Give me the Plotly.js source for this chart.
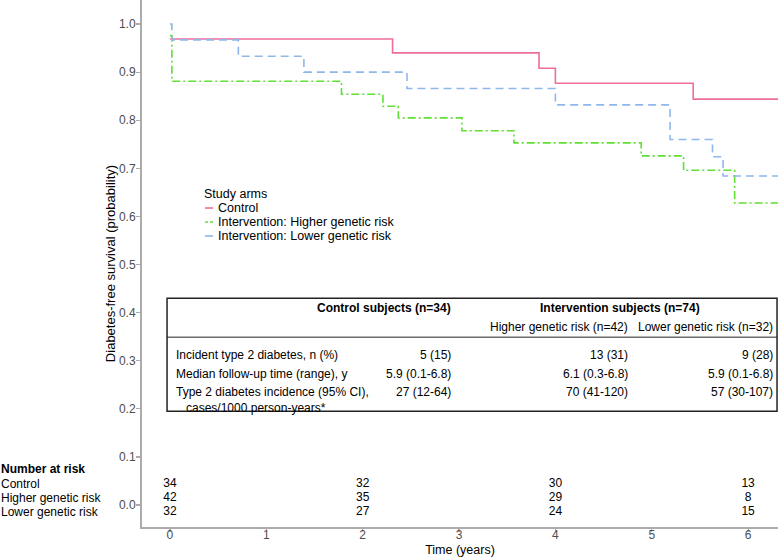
<!DOCTYPE html>
<html>
<head>
<meta charset="utf-8">
<script src="https://cdn.plot.ly/plotly-3.0.1.min.js"></script>
<style>
  html, body { margin: 0; padding: 0; background: #fff; }
  #myDiv { width: 782px; height: 557px; }
</style>
</head>
<body>
<div id="myDiv"></div>
<script>
// Kaplan-Meier steps (time in years, survival probability)
let ctrlT = [0, 2.31, 3.83, 4.0, 5.43, 6.8];
let ctrlS = [0.969, 0.940, 0.908, 0.877, 0.844, 0.844];

let highT = [0, 0.02, 1.78, 2.21, 2.37, 3.03, 3.57, 4.89, 5.33, 5.86, 6.8];
let highS = [0.976, 0.881, 0.854, 0.829, 0.805, 0.778, 0.753, 0.726, 0.696, 0.628, 0.628];

let lowT = [0, 0.02, 0.71, 1.39, 2.46, 4.0, 5.19, 5.63, 5.74, 6.8];
let lowS = [1.0, 0.967, 0.933, 0.900, 0.866, 0.832, 0.760, 0.724, 0.684, 0.684];

let armNames = ['Control', 'Intervention: Higher genetic risk', 'Intervention: Lower genetic risk'];
let armColors = ['#EE6E96', '#62DE36', '#8FB7EA'];
let armDash = ['solid', '8px,3px,2px,3px', '8px,5px'];

// number at risk
let riskTimes = [0, 2, 4, 6];
let riskLabels = ['Control', 'Higher genetic risk', 'Lower genetic risk'];
let riskCtrl = [34, 32, 30, 13];
let riskHigh = [42, 35, 29, 8];
let riskLow = [32, 27, 24, 15];

// summary table
let rowLabels = ['Incident type 2 diabetes, n (%)', 'Median follow-up time (range), y',
                 'Type 2 diabetes incidence (95% CI),<br>\u00a0\u00a0\u00a0cases/1000 person-years*'];
let colCtrl = ['5 (15)', '5.9 (0.1-6.8)', '27 (12-64)'];
let colHigh = ['13 (31)', '6.1 (0.3-6.8)', '70 (41-120)'];
let colLow = ['9 (28)', '5.9 (0.1-6.8)', '57 (30-107)'];

let FONT = 'Liberation Sans, Arial, sans-serif';

let curves = [[ctrlT, ctrlS], [highT, highS], [lowT, lowS]];
let traces = curves.map(function(c, i){
    return {x: c[0], y: c[1], name: armNames[i], mode: 'lines', type: 'scatter', showlegend: false,
            line: {shape: 'hv', width: 1.6, color: armColors[i], dash: armDash[i]}};
});

// at-risk numbers as text traces on the time axis
let riskRows = [riskCtrl, riskHigh, riskLow];
let riskY = [0.044, 0.015, -0.015];
riskRows.forEach(function(r, i){
    traces.push({
        x: riskTimes, y: riskTimes.map(function(){ return riskY[i]; }),
        text: r.map(String), mode: 'text', type: 'scatter', showlegend: false,
        hoverinfo: 'skip', cliponaxis: false,
        textfont: {family: FONT, size: 12, color: '#000'}
    });
});

let annotations = [];
function addText(txt, x, y, anchor, opts){
    opts = opts || {};
    annotations.push({
        text: opts.bold ? '<b>' + txt + '</b>' : txt,
        x: x, y: y, xref: opts.xref || 'x', yref: opts.yref || 'y',
        xanchor: anchor, yanchor: 'middle', align: 'left', showarrow: false,
        borderpad: 0,
        font: {family: FONT, size: opts.size || 12, color: '#000'}
    });
}

// table header
addText('Control subjects (n=34)', 2.93, 0.410, 'right', {bold: true});
addText('Intervention subjects (n=74)', 4.67, 0.410, 'center', {bold: true});
addText('Higher genetic risk (n=42)', 4.76, 0.370, 'right');
addText('Lower genetic risk (n=32)', 6.27, 0.370, 'right');

let rowY = [0.312, 0.272, 0.235];
rowLabels.forEach(function(lbl, i){
    addText(lbl, 0.05, i < 2 ? rowY[i] : 0.219, 'left');
    addText(colCtrl[i], 2.93, rowY[i], 'right');
    addText(colHigh[i], 4.76, rowY[i], 'right');
    addText(colLow[i], 6.27, rowY[i], 'right');
});

// number at risk labels (left of the axis)
addText('Number at risk', -0.2233, 0.074, 'left', {bold: true, xref: 'paper'});
riskLabels.forEach(function(lbl, i){
    addText(lbl, -0.2233, riskY[i], 'left', {xref: 'paper'});
});

let shapes = [
    {type: 'rect', xref: 'x', yref: 'y', x0: -0.03, x1: 6.30, y0: 0.195, y1: 0.430,
     line: {color: '#222', width: 1.5}, fillcolor: 'rgba(0,0,0,0)'},
    {type: 'line', xref: 'x', yref: 'y', x0: -0.03, x1: 6.30, y0: 0.349, y1: 0.349,
     line: {color: '#222', width: 1}}
];

// compact legend, drawn like the original's (short keys, tight rows)
let legX = 0.0959, legKey0 = 0.0991, legKey1 = 0.1116, legTextX = 0.1179;
let legY = [0.6053, 0.5787, 0.5522];
addText('Study arms', legX, 0.632, 'left', {xref: 'paper', yref: 'paper', size: 12.5});
armNames.forEach(function(n, i){
    addText(n, legTextX, legY[i], 'left', {xref: 'paper', yref: 'paper', size: 12.5});
    shapes.push({type: 'line', xref: 'paper', yref: 'paper', x0: legKey0, x1: legKey1, y0: legY[i], y1: legY[i],
                 line: {color: armColors[i], width: 1.6, dash: i == 1 ? '3px,2px' : 'solid'}});
});

let layout = {
    width: 782, height: 557,
    margin: {l: 142, r: 4, t: 0, b: 30},
    paper_bgcolor: '#fff', plot_bgcolor: '#fff',
    font: {family: FONT, size: 12, color: '#000'},
    showlegend: false,
    xaxis: {
        range: [-0.29, 6.31], tickvals: [0, 1, 2, 3, 4, 5, 6],
        showgrid: false, zeroline: false,
        showline: true, linecolor: '#ABABAB', linewidth: 2,
        ticks: 'outside', ticklen: 3, tickwidth: 1.2, tickcolor: '#ABABAB',
        ticklabelstandoff: -7,
        tickfont: {family: FONT, size: 12, color: '#4D4D4D'},
        title: {text: 'Time (years)', font: {family: FONT, size: 12.5, color: '#000'}, standoff: 8}
    },
    yaxis: {
        range: [-0.0457, 1.05], dtick: 0.1, tick0: 0, tickformat: '.1f',
        showgrid: false, zeroline: false,
        showline: true, linecolor: '#ABABAB', linewidth: 2,
        ticks: 'outside', ticklen: 4, tickwidth: 1.2, tickcolor: '#ABABAB',
        ticklabelstandoff: -2,
        tickfont: {family: FONT, size: 12, color: '#4D4D4D'},
        title: {text: 'Diabetes-free survival (probability)', font: {family: FONT, size: 13, color: '#000'}, standoff: 0}
    },
    annotations: annotations,
    shapes: shapes
};

Plotly.newPlot('myDiv', traces, layout, {displayModeBar: false, staticPlot: true});
</script>
</body>
</html>
